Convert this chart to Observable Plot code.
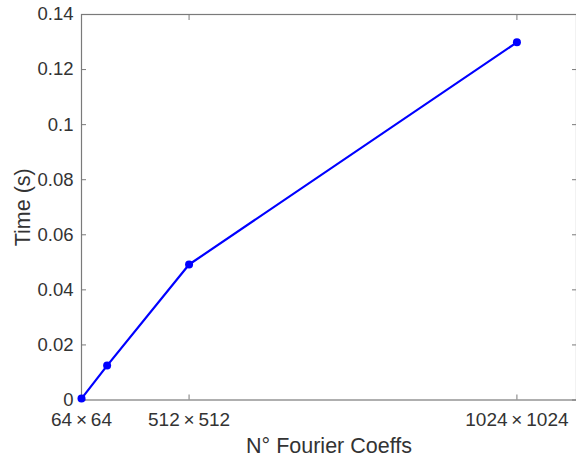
<!DOCTYPE html>
<html>
<head>
<meta charset="utf-8">
<script src="https://cdn.jsdelivr.net/npm/d3@7"></script>
<script src="https://cdn.jsdelivr.net/npm/@observablehq/plot@0.6"></script>
<style>
  html, body { margin: 0; padding: 0; background: #fff; }
  #chart { width: 576px; height: 458px; overflow: hidden; }
</style>
</head>
<body>
<div id="chart"></div>
<script>
// Grid sizes (N×N) and measured times
const sizes = [64, 256, 512, 1024];
const times = [0.0005, 0.0125, 0.0492, 0.1299];
const xTickSizes = [64, 512, 1024];
const xTickLabels = ["64\u2009×\u200964", "512\u2009×\u2009512", "1024\u2009×\u20091024"];
const yTicks = [0, 0.02, 0.04, 0.06, 0.08, 0.1, 0.12, 0.14];
const yTickLabels = ["0", "0.02", "0.04", "0.06", "0.08", "0.1", "0.12", "0.14"];

const data = sizes.map((n, i) => ({coeffs: n * n, time: times[i]}));
const xTicks = xTickSizes.map(n => n * n);

const axisColor = "#7a7a7a";
const textColor = "#333";
const font = "'Liberation Sans', Arial, Helvetica, sans-serif";

const chart = Plot.plot({
  width: 576,
  height: 458,
  marginLeft: 81,
  marginRight: 0,
  marginTop: 14,
  marginBottom: 58.5,
  style: {fontFamily: font, fontSize: "18.5px", color: textColor, background: "#fff"},
  x: {type: "linear", domain: [4096, 1.1915e6]},
  y: {domain: [0, 0.14]},
  marks: [
    Plot.frame({stroke: axisColor, strokeWidth: 1.2}),
    Plot.axisX(xTicks, {anchor: "bottom", tickSize: -5, tickPadding: 17, stroke: axisColor,
      tickFormat: (d, i) => xTickLabels[xTicks.indexOf(d)], fill: textColor, fontSize: 19,
      label: null}),
    Plot.axisX({anchor: "bottom", ticks: [], label: "N° Fourier Coeffs", labelAnchor: "center",
      labelOffset: 52.5, labelArrow: "none", fontSize: 21.5, fill: textColor}),
    Plot.axisX(xTicks, {anchor: "top", tickSize: -5, stroke: axisColor, tickFormat: () => "", label: null}),
    Plot.axisY(yTicks, {anchor: "left", tickSize: -5, tickPadding: 13, stroke: axisColor,
      tickFormat: (d) => yTickLabels[yTicks.indexOf(d)], fill: textColor, fontSize: 18.5,
      label: null}),
    Plot.axisY({anchor: "left", ticks: [], label: "Time (s)", labelAnchor: "center",
      labelOffset: 67, labelArrow: "none", fontSize: 21.5, fill: textColor}),
    Plot.axisY(yTicks, {anchor: "right", tickSize: -5, stroke: axisColor, tickFormat: () => "", label: null}),
    Plot.line(data, {x: "coeffs", y: "time", stroke: "#0000ff", strokeWidth: 2.2}),
    Plot.dot(data, {x: "coeffs", y: "time", fill: "#0000ff", r: 4, stroke: "none"})
  ]
});
document.getElementById("chart").appendChild(chart);
</script>
</body>
</html>
